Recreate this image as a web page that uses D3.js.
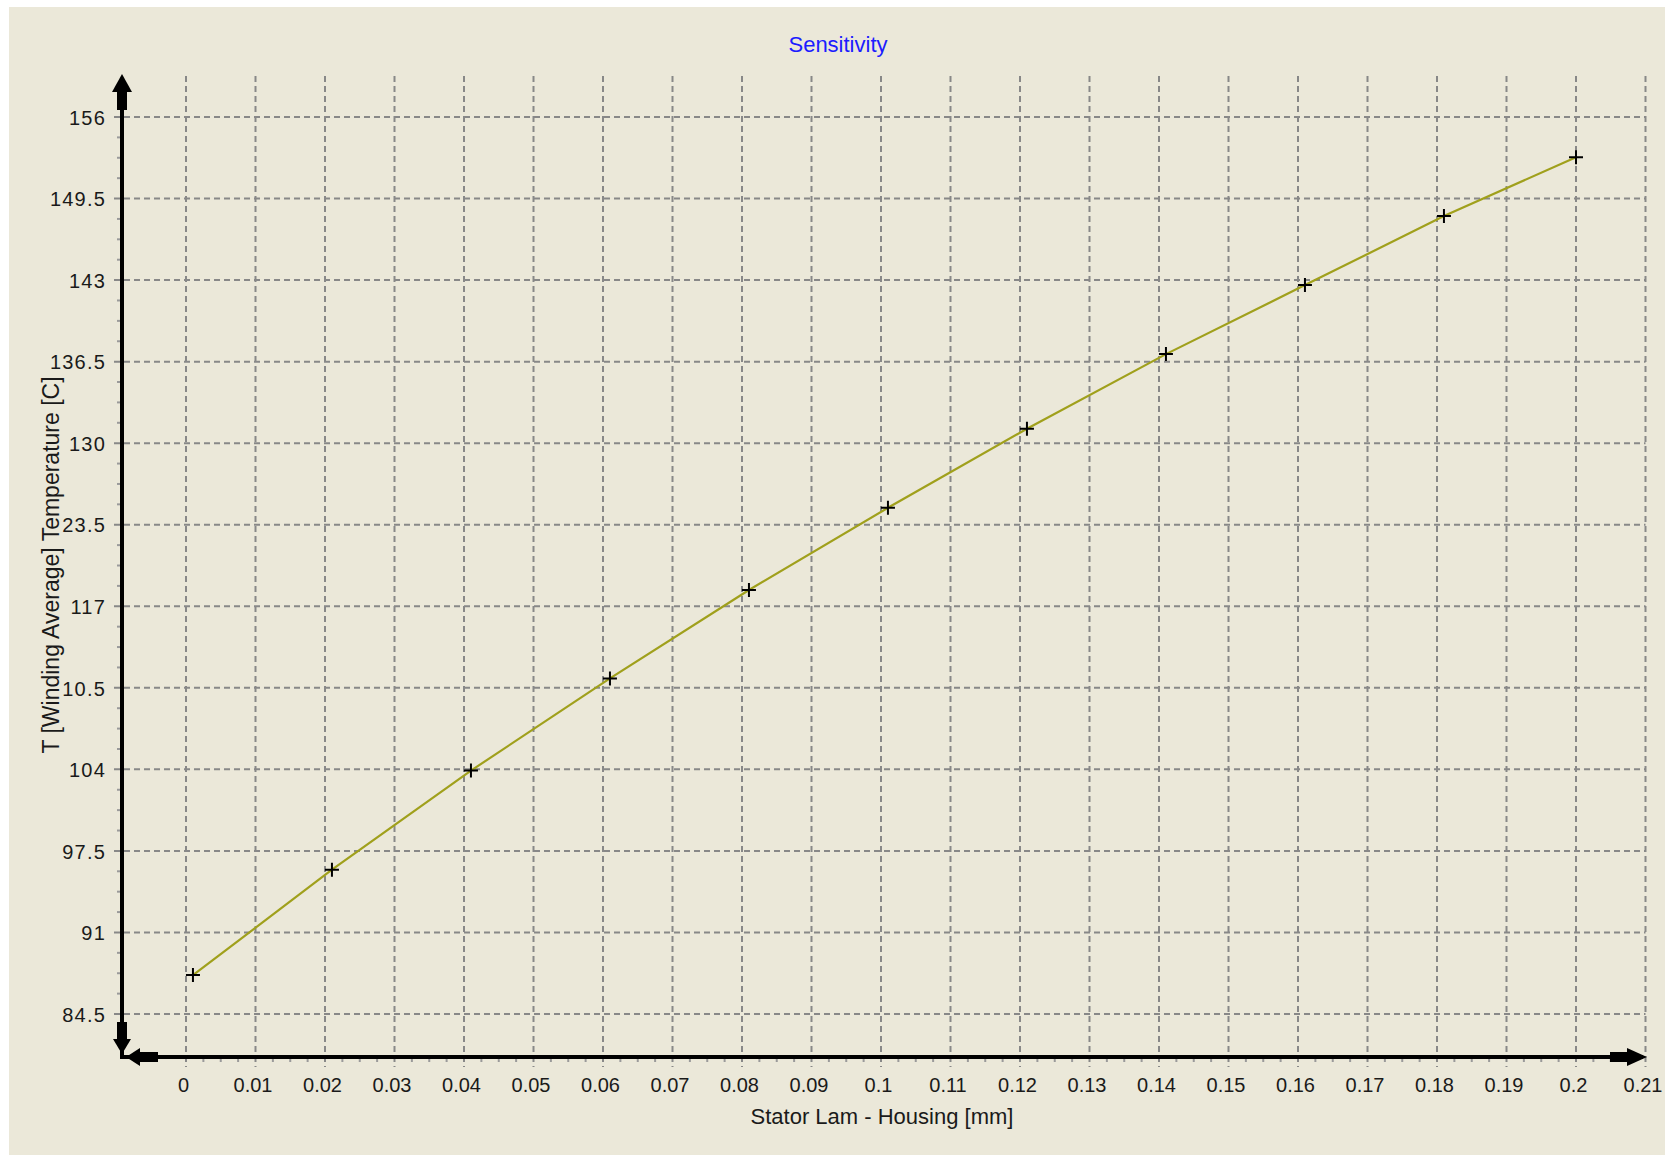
<!DOCTYPE html>
<html>
<head>
<meta charset="utf-8">
<script src="https://cdn.jsdelivr.net/npm/d3@7"></script>
<style>
  html, body { margin: 0; padding: 0; background: #ffffff; }
  svg { display: block; }
  text { font-family: "Liberation Sans", Arial, sans-serif; }
</style>
</head>
<body>
<svg id="chart" width="1673" height="1155"></svg>
<script>
// Sensitivity sweep: winding average temperature vs stator lamination–housing gap
const gapMm = [0.001, 0.021, 0.041, 0.061, 0.081, 0.101, 0.121, 0.141, 0.161, 0.181, 0.2];
const windingTempC = [87.6, 96.0, 103.9, 111.25, 118.3, 124.85, 131.15, 137.1, 142.6, 148.1, 152.8];

const xTickValues = [0, 0.01, 0.02, 0.03, 0.04, 0.05, 0.06, 0.07, 0.08, 0.09, 0.1,
                     0.11, 0.12, 0.13, 0.14, 0.15, 0.16, 0.17, 0.18, 0.19, 0.2, 0.21];
const xTickLabels = ["0", "0.01", "0.02", "0.03", "0.04", "0.05", "0.06", "0.07", "0.08", "0.09", "0.1",
                     "0.11", "0.12", "0.13", "0.14", "0.15", "0.16", "0.17", "0.18", "0.19", "0.2", "0.21"];
const yTickValues = [84.5, 91, 97.5, 104, 110.5, 117, 123.5, 130, 136.5, 143, 149.5, 156];
// labels as printed by the plotting control (wide values are clipped to their last digits)
const yTickLabels = ["84.5", "91", "97.5", "104", "10.5", "117", "23.5", "130", "136.5", "143", "149.5", "156"];

const titleText = "Sensitivity";
const xAxisTitle = "Stator Lam - Housing [mm]";
const yAxisTitle = "T [Winding Average] Temperature [C]";

const svg = d3.select("#chart");

// panel background
svg.append("rect")
  .attr("x", 9).attr("y", 7).attr("width", 1656).attr("height", 1148)
  .attr("fill", "#ebe8d9");

const axisX = 122;      // y-axis line position
const axisY = 1057;     // x-axis line position
const x = d3.scaleLinear().domain([0, 0.21]).range([186, 1645.5]);
const y = d3.scaleLinear().domain([84.5, 156]).range([1014, 117]);

const gridColor = "#888888";
const grid = svg.append("g");

// horizontal dashed grid lines
grid.selectAll("line.h").data(yTickValues).join("line")
  .attr("class", "h")
  .attr("x1", axisX - 8).attr("x2", x(0.21))
  .attr("y1", d => y(d)).attr("y2", d => y(d))
  .attr("stroke", gridColor).attr("stroke-width", 2)
  .attr("stroke-dasharray", "6,4");

// vertical dashed grid lines
grid.selectAll("line.v").data(xTickValues).join("line")
  .attr("class", "v")
  .attr("x1", d => x(d)).attr("x2", d => x(d))
  .attr("y1", 76).attr("y2", axisY + 10)
  .attr("stroke", gridColor).attr("stroke-width", 2)
  .attr("stroke-dasharray", "6,4");

// minor ticks on the y axis (4 subdivisions)
const yMinor = [];
for (let i = 0; i < yTickValues.length - 1; i++) {
  for (let k = 1; k < 4; k++) yMinor.push(yTickValues[i] + k * 6.5 / 4);
}
for (let k = 1; k < 4; k++) yMinor.push(84.5 - k * 6.5 / 4);
grid.selectAll("line.ym").data(yMinor.filter(v => y(v) < axisY - 25)).join("line")
  .attr("class", "ym")
  .attr("x1", axisX - 5).attr("x2", axisX)
  .attr("y1", d => y(d)).attr("y2", d => y(d))
  .attr("stroke", "#9a9a9a").attr("stroke-width", 2);

// minor ticks on the x axis
const xMinor = [];
for (let i = 0; i < xTickValues.length - 1; i++) {
  for (let k = 1; k < 4; k++) xMinor.push(xTickValues[i] + k * 0.0025);
}
grid.selectAll("line.xm").data(xMinor).join("line")
  .attr("class", "xm")
  .attr("x1", d => x(d)).attr("x2", d => x(d))
  .attr("y1", axisY).attr("y2", axisY + 5)
  .attr("stroke", "#9a9a9a").attr("stroke-width", 2);

// axis lines with arrowheads
const axes = svg.append("g").attr("fill", "#000").attr("stroke", "none");
axes.append("rect").attr("x", axisX - 2).attr("y", 100).attr("width", 4).attr("height", axisY - 100 + 2);
axes.append("rect").attr("x", axisX - 2).attr("y", axisY - 2).attr("width", 1645 - axisX).attr("height", 4);
// top arrow
axes.append("rect").attr("x", axisX - 5).attr("y", 88).attr("width", 10).attr("height", 22);
axes.append("path").attr("d", `M${axisX},74 L${axisX + 10},92 L${axisX - 10},92 Z`);
// bottom (down) arrow
axes.append("rect").attr("x", axisX - 5).attr("y", 1022).attr("width", 10).attr("height", 20);
axes.append("path").attr("d", `M${axisX},1054 L${axisX + 9},1039 L${axisX - 9},1039 Z`);
// left arrow along x axis
axes.append("rect").attr("x", 138).attr("y", axisY - 5).attr("width", 20).attr("height", 10);
axes.append("path").attr("d", `M${axisX + 4},${axisY} L${axisX + 18},${axisY - 9} L${axisX + 18},${axisY + 9} Z`);
// right arrow
axes.append("rect").attr("x", 1610).attr("y", axisY - 5).attr("width", 20).attr("height", 10);
axes.append("path").attr("d", `M1647,${axisY} L1627,${axisY - 9} L1627,${axisY + 9} Z`);

// tick labels through d3 axes (lines suppressed; grid drawn above)
const xAxisG = svg.append("g")
  .attr("transform", `translate(0,${axisY + 21})`)
  .call(d3.axisBottom(x).tickValues(xTickValues)
    .tickFormat((d, i) => xTickLabels[i]).tickSize(0).tickPadding(0));
xAxisG.select(".domain").remove();
xAxisG.selectAll("text")
  .attr("font-size", 20).attr("fill", "#1a1a1a")
  .attr("font-family", "'Liberation Sans', Arial, sans-serif")
  .attr("dx", -3).attr("dy", "0.71em");

const yAxisG = svg.append("g")
  .attr("transform", `translate(106,0)`)
  .call(d3.axisLeft(y).tickValues(yTickValues)
    .tickFormat((d, i) => yTickLabels[i]).tickSize(0).tickPadding(0));
yAxisG.select(".domain").remove();
yAxisG.selectAll("text")
  .attr("font-size", 20).attr("fill", "#1a1a1a")
  .attr("font-family", "'Liberation Sans', Arial, sans-serif")
  .attr("letter-spacing", "1.2px")
  .attr("dy", "0.36em");

// series line
const line = d3.line().x((d, i) => x(gapMm[i])).y(d => y(d));
svg.append("path")
  .datum(windingTempC)
  .attr("d", line)
  .attr("fill", "none")
  .attr("stroke", "#a0a01c")
  .attr("stroke-width", 2.2);

// plus markers
const markers = svg.append("g").attr("stroke", "#000").attr("stroke-width", 2);
markers.selectAll("path").data(windingTempC).join("path")
  .attr("d", (d, i) => {
    const cx = x(gapMm[i]), cy = y(d);
    return `M${cx - 7},${cy} H${cx + 7} M${cx},${cy - 7} V${cy + 7}`;
  });

// titles
svg.append("text")
  .attr("x", 838).attr("y", 52)
  .attr("text-anchor", "middle")
  .attr("font-size", 22).attr("fill", "#1c1cff")
  .text(titleText);

svg.append("text")
  .attr("x", 882).attr("y", 1124)
  .attr("text-anchor", "middle")
  .attr("font-size", 22).attr("fill", "#1a1a1a")
  .text(xAxisTitle);

svg.append("text")
  .attr("transform", "translate(59,565) rotate(-90)")
  .attr("text-anchor", "middle")
  .attr("font-size", 23).attr("fill", "#1a1a1a")
  .text(yAxisTitle);
</script>
</body>
</html>
